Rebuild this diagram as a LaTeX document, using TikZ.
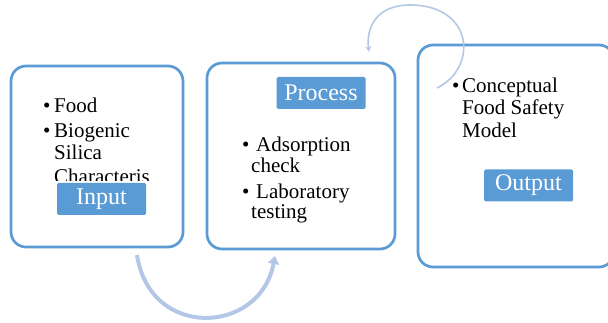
\documentclass[tikz,border=0pt]{standalone}
\usepackage{fontspec}
\setmainfont{Liberation Serif}
\usetikzlibrary{arrows.meta}
\definecolor{boxblue}{HTML}{5B9BD5}
\definecolor{arrowblue}{HTML}{B4C7E7}
\begin{document}
\begin{tikzpicture}[x=1pt,y=-1pt,
  panel/.style={draw=boxblue,line width=2.7pt,rounded corners=15pt,fill=white,inner sep=0pt},
  tag/.style={fill=boxblue,text=white,font=\fontsize{24}{26}\selectfont,inner sep=0pt,minimum width=89pt,minimum height=32pt,rounded corners=1.5pt},
  txt/.style={anchor=base west,inner sep=0pt,font=\fontsize{21}{22}\selectfont},
  flow/.style={draw=arrowblue,line width=4pt,-{Triangle[width=11pt,length=8pt]}},
  loopback/.style={draw=arrowblue,line width=1.6pt,-{Stealth[width=6pt,length=6pt]}}]
\useasboundingbox (0,0) rectangle (608,323);
% panels
\node[panel,minimum width=172pt,minimum height=181pt] (b1) at (97,156.5) {};
\node[panel,minimum width=188pt,minimum height=186pt] (b2) at (301,156) {};
\node[panel,minimum width=196pt,minimum height=222pt] (b3) at (516,156) {};
% box 1 text
\node[txt] (p1) at (43,113) {\textbullet};
\node[txt] (w1) at (54,113) {Food};
\node[txt] (p2) at (43,138) {\textbullet};
\node[txt] (w2) at (54,138) {Biogenic};
\node[txt] (w3) at (54,160) {Silica};
\begin{scope}
\clip (20,60) rectangle (180,181);
\node[txt] (w4) at (54,184) {Characteris};
\end{scope}
% box 2 text
\node[txt] (q1) at (242,152) {\textbullet};
\node[txt] (v1) at (256,152) {Adsorption};
\node[txt] (v2) at (251,173) {check};
\node[txt] (q2) at (242,199) {\textbullet};
\node[txt] (v3) at (256,199) {Laboratory};
\node[txt] (v4) at (251,219) {testing};
% box 3 text
\node[txt] (r1) at (452,93) {\textbullet};
\node[txt] (u1) at (462,93) {Conceptual};
\node[txt] (u2) at (462,115) {Food Safety};
\node[txt] (u3) at (462,138) {Model};
% tags
\node[tag] (tin) at (101.5,199) {Input};
\node[tag] (tproc) at (321,93) {Process};
\node[tag] (tout) at (528.5,185.5) {Output};
% arrows
\coordinate (a1s) at (137,255);
\coordinate (a1e) at (275,256);
\draw[flow] (a1s) .. controls (150,340) and (260,335) .. (a1e);
\coordinate (a2s) at (437,88);
\coordinate (a2m) at (410,5);
\coordinate (a2e) at (369,52);
\draw[loopback] (a2s) .. controls (478,68) and (474,5) .. (a2m) .. controls (376,5) and (366,28) .. (a2e);
\end{tikzpicture}
\end{document}
